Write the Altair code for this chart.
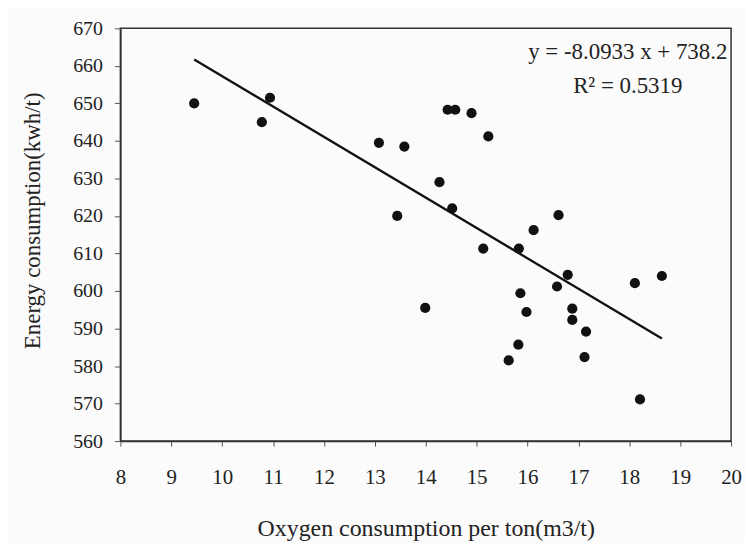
import altair as alt
import pandas as pd

# Scatter data
oxygen = [9.45, 10.78, 10.94, 13.08, 13.44, 13.58, 13.99, 14.27, 14.43, 14.58,
          14.52, 14.90, 15.13, 15.23, 15.63, 15.82, 15.83, 15.86, 15.98, 16.12,
          16.58, 16.61, 16.79, 16.88, 16.88, 17.12, 17.15, 18.11, 18.21, 18.64]
energy = [650.0, 645.0, 651.5, 639.5, 620.0, 638.5, 595.5, 629.0, 648.3, 648.3,
          622.0, 647.4, 611.3, 641.2, 581.5, 585.7, 611.3, 599.4, 594.4, 616.2,
          601.2, 620.2, 604.3, 595.3, 592.3, 582.4, 589.2, 602.1, 571.1, 604.0]

# Trend line (from the printed equation)
slope = [-8.0933]
intercept = [738.2]
trend_x = [9.45, 18.64]

# Annotation
ann_text = ["y = -8.0933 x + 738.2", "R\u00b2 = 0.5319"]
ann_x = [17.97, 17.97]
ann_y = [661.8, 652.7]

x_ticks = list(range(8, 21))
y_ticks = list(range(560, 671, 10))

FONT = "Liberation Serif"

pts = pd.DataFrame({"oxygen": oxygen, "energy": energy})
trend = pd.DataFrame({"oxygen": trend_x, "m": slope * len(trend_x), "b": intercept * len(trend_x)})
ann = pd.DataFrame({"oxygen": ann_x, "energy": ann_y, "t": ann_text})

xscale = alt.Scale(domain=[8, 20], nice=False, zero=False)
yscale = alt.Scale(domain=[560, 670], nice=False, zero=False)

xaxis = alt.Axis(values=x_ticks, grid=False, tickSize=5, labelPadding=21,
                 labelFont=FONT, labelFontSize=21, labelColor="#222",
                 labelFlush=False, labelOverlap=False,
                 domainColor="#333", domainWidth=1.5, tickColor="#555",
                 titleFont=FONT, titleFontSize=24, titleFontWeight="normal",
                 titleColor="#222", titleX=307, titleY=95,
                 titleAlign="center", titleBaseline="alphabetic")
yaxis = alt.Axis(values=y_ticks, grid=False, tickSize=6, labelPadding=12,
                 labelFont=FONT, labelFontSize=20, labelColor="#222",
                 labelFlush=False, labelOverlap=False,
                 domainColor="#333", domainWidth=1.5, tickColor="#555",
                 titleFont=FONT, titleFontSize=23, titleFontWeight="normal",
                 titleColor="#222", titleAngle=-90, titleX=-81, titleY=193,
                 titleAlign="center", titleBaseline="alphabetic")

X = alt.X("oxygen:Q", scale=xscale, axis=xaxis,
          title="Oxygen consumption per ton(m3/t)")
Y = alt.Y("energy:Q", scale=yscale, axis=yaxis,
          title="Energy consumption(kwh/t)")

points = alt.Chart(pts).mark_circle(size=105, color="#111", opacity=1).encode(x=X, y=Y)

line = alt.Chart(trend).transform_calculate(
    energy="datum.m * datum.oxygen + datum.b"
).mark_line(color="#111", strokeWidth=2.3).encode(x=X, y=Y)

text = alt.Chart(ann).mark_text(font=FONT, fontSize=23, color="#222",
                                align="center", baseline="alphabetic").encode(
    x=X, y=Y, text="t:N",
)

chart = alt.layer(points, line, text).properties(
    width=614, height=415,
    padding={"left": 113, "top": 19, "right": 14, "bottom": 101},
    autosize="none",
    background="#fbfbfb",
).configure_view(stroke="#333", strokeWidth=1.5)

chart.save("out.html", embed_options={"renderer": "svg", "actions": False})
